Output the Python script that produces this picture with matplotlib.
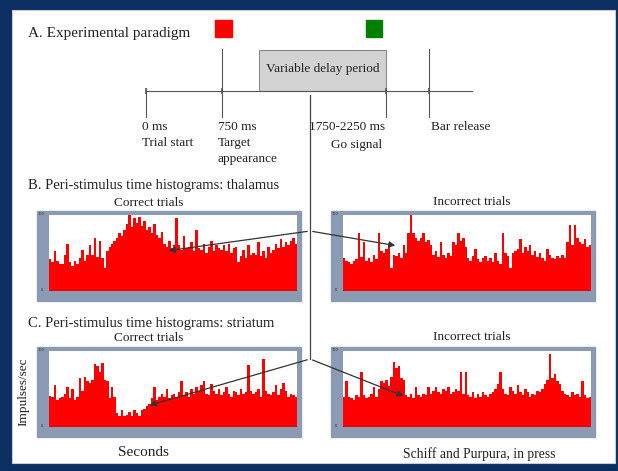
import matplotlib
matplotlib.use('Agg')
import matplotlib.pyplot as plt
from matplotlib.patches import Rectangle

W, H = 618, 471

# firing rate per bin (impulses/sec, axis runs 0-100)
thal_correct = [42, 38, 52, 40, 36, 35, 48, 62, 38, 33,
                40, 36, 44, 54, 40, 47, 60, 48, 70, 45,
                66, 44, 30, 52, 58, 62, 66, 70, 76, 72,
                80, 88, 100, 84, 96, 90, 98, 86, 92, 80,
                84, 76, 88, 74, 70, 78, 62, 58, 66, 56,
                60, 96, 60, 54, 72, 56, 58, 64, 52, 80,
                56, 54, 62, 50, 58, 66, 52, 60, 56, 54,
                60, 52, 62, 50, 56, 58, 38, 46, 54, 44,
                60, 48, 50, 48, 64, 46, 52, 44, 58, 50,
                54, 62, 56, 68, 58, 64, 60, 66, 70, 62]
thal_incorrect = [43, 40, 38, 36, 40, 42, 76, 45, 65, 40,
                  44, 38, 48, 42, 76, 52, 50, 55, 60, 30,
                  48, 46, 50, 44, 60, 50, 76, 100, 76, 70,
                  66, 70, 76, 64, 67, 60, 47, 52, 45, 65,
                  48, 44, 50, 46, 65, 60, 76, 66, 70, 58,
                  43, 40, 46, 55, 42, 38, 44, 46, 40, 44,
                  38, 50, 40, 36, 76, 50, 46, 30, 50, 52,
                  55, 68, 50, 58, 52, 60, 48, 52, 45, 50,
                  43, 40, 55, 48, 44, 42, 46, 44, 48, 43,
                  65, 87, 60, 87, 70, 65, 62, 68, 58, 60]
str_correct = [41, 40, 55, 36, 38, 40, 44, 52, 38, 50,
               36, 40, 65, 48, 66, 60, 58, 62, 83, 80,
               72, 84, 62, 60, 38, 52, 40, 18, 15, 22,
               14, 16, 20, 15, 23, 18, 14, 22, 24, 28,
               30, 38, 52, 36, 40, 44, 40, 50, 38, 42,
               44, 40, 46, 61, 42, 46, 40, 50, 44, 52,
               48, 55, 60, 44, 42, 56, 48, 44, 50, 42,
               46, 52, 44, 40, 48, 46, 42, 50, 44, 46,
               81, 48, 44, 46, 50, 40, 90, 48, 44, 42,
               46, 55, 42, 50, 58, 48, 40, 44, 42, 40]
str_incorrect = [39, 61, 40, 38, 36, 42, 40, 72, 42, 38,
                 40, 44, 52, 40, 50, 60, 58, 62, 54, 66,
                 85, 78, 80, 65, 62, 42, 40, 44, 38, 52,
                 42, 40, 44, 42, 52, 44, 48, 52, 46, 44,
                 50, 48, 52, 44, 46, 50, 48, 72, 44, 72,
                 42, 40, 46, 38, 44, 40, 46, 42, 40, 44,
                 46, 50, 56, 72, 50, 44, 42, 52, 48, 44,
                 55, 46, 42, 50, 46, 40, 44, 42, 48, 46,
                 50, 56, 62, 96, 64, 70, 60, 56, 48, 44,
                 42, 40, 46, 42, 44, 40, 61, 42, 38, 40]

# timeline events: label lines under the axis
events = [('0 ms', 'Trial start', ''), ('750 ms', 'Target', 'appearance'),
          ('1750-2250 ms', '', ''), ('Bar release', '', '')]

NAVY = '#0c2f61'
FRAME = '#8a9bb3'
INK = '#222222'
LINE = '#555555'
SERIF = 'Liberation Serif'


def frac(x0, y0, x1, y1):
    return [x0 / W, 1 - y1 / H, (x1 - x0) / W, (y1 - y0) / H]


fig = plt.figure(figsize=(W / 100, H / 100), dpi=100)
fig.patch.set_facecolor(NAVY)

bg = fig.add_axes([0, 0, 1, 1], zorder=0)
bg.set_xlim(0, W)
bg.set_ylim(H, 0)
bg.axis('off')
bg.add_patch(Rectangle((12, 10), 603, 453, facecolor='white', edgecolor='#cccccc', lw=0.8))

# A. paradigm
bg.text(28, 33, 'A. Experimental paradigm', fontsize=11, family=SERIF, color=INK, va='center')
bg.add_patch(Rectangle((215, 20), 17, 17, color='#ff0000'))
bg.add_patch(Rectangle((366, 20), 16, 17, color='#008000'))
bg.add_patch(Rectangle((259, 50), 127, 41, facecolor='#d3d3d3', edgecolor='#8a8a8a', lw=0.8))
bg.text(323, 69, 'Variable delay period', fontsize=9.5, family=SERIF, color=INK, ha='center', va='center')
bg.plot([146, 472], [91, 91], color=LINE, lw=0.8)
for x, top in [(146, 91), (222, 49), (386, 91), (429, 49)]:
    bg.plot([x, x], [top, 117], color=LINE, lw=0.8)
    bg.plot(x, 91, marker='|', ms=4, color=LINE, mew=1.2)

tl = dict(fontsize=9.5, family=SERIF, color=INK, va='center')
bg.text(142, 127, events[0][0], **tl)
bg.text(142, 143, events[0][1], **tl)
bg.text(218, 127, events[1][0], **tl)
bg.text(218, 143, events[1][1], **tl)
bg.text(218, 159, events[1][2], **tl)
bg.text(309, 127, events[2][0], **tl)
bg.text(382, 145, 'Go signal', ha='right', **tl)
bg.text(431, 127, events[3][0], **tl)

# section headings
bg.text(28, 185, 'B. Peri-stimulus time histograms: thalamus', fontsize=10.5, family=SERIF, color=INK, va='center')
bg.text(28, 323, 'C. Peri-stimulus time histograms: striatum', fontsize=10.5, family=SERIF, color=INK, va='center')
sub = dict(fontsize=9.5, family=SERIF, color=INK, ha='center', va='center')
bg.text(149, 203, 'Correct trials', **sub)
bg.text(472, 202, 'Incorrect trials', **sub)
bg.text(149, 338, 'Correct trials', **sub)
bg.text(472, 337, 'Incorrect trials', **sub)
bg.text(23, 392, 'Impulses/sec', fontsize=9.5, family=SERIF, color=INK, ha='center', va='center', rotation=90)
bg.text(143, 453, 'Seconds', fontsize=11, family=SERIF, color=INK, ha='center', va='center')
bg.text(479, 454, 'Schiff and Purpura, in press', fontsize=9.8, family=SERIF, color=INK, ha='center', va='center')

panels = [(thal_correct, 49, 215), (thal_incorrect, 343, 215),
          (str_correct, 49, 351), (str_incorrect, 343, 351)]
for vals, x0, y0 in panels:
    # grey chart frame behind the plot area
    bg.add_patch(Rectangle((x0 - 12, y0 - 4), 264, 90, color=FRAME))
    bg.text(x0 - 8, y0 - 1, '100', fontsize=2.5, color=INK, ha='center', va='center')
    bg.text(x0 - 7, y0 + 75, '0', fontsize=2.5, color=INK, ha='center', va='center')
    ax = fig.add_axes(frac(x0, y0, x0 + 248, y0 + 76), zorder=1)
    ax.bar(range(len(vals)), vals, width=1.0, color='#ff0000', linewidth=0)
    ax.axhline(0, color='#8b0000', lw=1)
    ax.set_xlim(-0.5, len(vals) - 0.5)
    ax.set_ylim(0, 100)
    ax.set_facecolor('white')
    ax.set_xticks([])
    ax.set_yticks([])
    for s in ax.spines.values():
        s.set_visible(False)

# connector lines and arrows drawn over the histograms
top = fig.add_axes([0, 0, 1, 1], zorder=5)
top.set_xlim(0, W)
top.set_ylim(H, 0)
top.axis('off')
top.patch.set_visible(False)
top.plot([310, 310], [95, 359], color='#444444', lw=0.9)
arrow = dict(arrowstyle='-|>', color='#333333', lw=0.9, mutation_scale=9)
for start, tip in [((310, 231), (166, 251)), ((310, 231), (398, 246)),
                   ((310, 359), (147, 406)), ((310, 359), (406, 397))]:
    top.annotate('', xy=tip, xytext=start, arrowprops=arrow)

fig.savefig('out.png', dpi=100, facecolor=fig.get_facecolor())
